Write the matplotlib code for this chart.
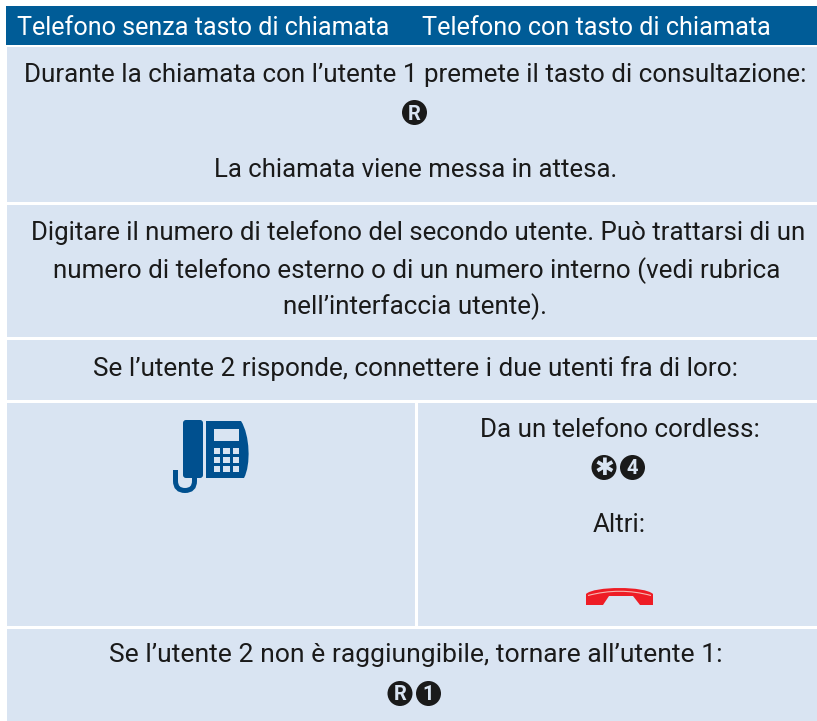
import matplotlib
matplotlib.use('Agg')
import matplotlib.pyplot as plt
from matplotlib.patches import Rectangle, Circle, FancyBboxPatch
from matplotlib.path import Path
from matplotlib.patches import PathPatch

HEADER = '#005c97'
CELL = '#d9e4f2'
TEXT = '#1a1a1a'
ICON = '#00508f'
RED = '#ee1c25'

header_labels = ['Telefono senza tasto di chiamata', 'Telefono con tasto di chiamata']
row_tops = [47, 205, 340, 403, 629]
row_bottoms = [202, 337, 400, 626, 721]
# baseline in pixels, text, font size, centre x
body_lines = [
    (82, 'Durante la chiamata con l\u2019utente 1 premete il tasto di consultazione:', 18.7, 415.5),
    (177, 'La chiamata viene messa in attesa.', 18.55, 415.5),
    (240, 'Digitare il numero di telefono del secondo utente. Può trattarsi di un', 18.65, 418),
    (278, 'numero di telefono esterno o di un numero interno (vedi rubrica', 18.7, 417),
    (314, 'nell\u2019interfaccia utente).', 18.7, 415.5),
    (376, 'Se l\u2019utente 2 risponde, connettere i due utenti fra di loro:', 18.8, 415.5),
    (662, 'Se l\u2019utente 2 non è raggiungibile, tornare all\u2019utente 1:', 19.05, 416),
]
right_lines = [(437, 'Da un telefono cordless:'), (532, 'Altri:')]
keys = [(414.5, 112.5, 'R'), (604, 467.5, '\u2731'), (632.5, 467.5, '4'), (400, 693.5, 'R'), (428.5, 693.5, '1')]

plt.rcParams['font.family'] = ['Roboto', 'DejaVu Sans']
fig = plt.figure(figsize=(8.17, 7.21), dpi=100)
ax = fig.add_axes([0, 0, 1, 1])
ax.set_xlim(0, 817)
ax.set_ylim(721, 0)
ax.axis('off')

LEFT, RIGHT = 7, 817
ax.add_patch(Rectangle((6, 6), RIGHT - 6, 39, fc=HEADER, ec='none'))
for top, bottom in zip(row_tops, row_bottoms):
    ax.add_patch(Rectangle((LEFT, top), RIGHT - LEFT, bottom - top, fc=CELL, ec='none'))
ax.plot([416, 416], [403, 626], color='white', lw=2.2)

ax.text(17, 35, header_labels[0], color='white', fontsize=18.1, ha='left', va='baseline')
ax.text(422, 35, header_labels[1], color='white', fontsize=18.2, ha='left', va='baseline')
for y, s, size, cx in body_lines:
    ax.text(cx, y, s, color=TEXT, fontsize=size, ha='center', va='baseline')
for y, s in right_lines:
    ax.text(619.5, y, s, color=TEXT, fontsize=18.7, ha='center', va='baseline')

# round key caps
for x, y, s in keys:
    ax.add_patch(Circle((x, y), 12.5, fc=TEXT, ec='none'))
    if s == '\u2731':
        ax.text(x, y + 0.5, s, color=CELL, fontsize=17, family='DejaVu Sans', ha='center', va='center')
    else:
        ax.text(x, y + 7, s, color=CELL, fontsize=14.5, fontweight='bold', ha='center', va='baseline')

# desk phone
ax.add_patch(FancyBboxPatch((183, 420), 20, 58, boxstyle='round,pad=0,rounding_size=3', fc=ICON, ec='none'))
body = Path([(206, 421), (241, 421), (250, 435), (251, 465), (244, 478), (206, 478), (206, 421)],
            [Path.MOVETO, Path.LINETO, Path.CURVE4, Path.CURVE4, Path.CURVE4, Path.LINETO, Path.CLOSEPOLY])
ax.add_patch(PathPatch(body, fc=ICON, ec='none'))
ax.add_patch(Rectangle((214, 429), 25, 12, fc=CELL, ec='none'))
for r in range(3):
    for c in range(3):
        ax.add_patch(Rectangle((214 + c * 9.4, 448 + r * 9), 6.5, 5.8, fc=CELL, ec='none'))
cord = Path([(175.5, 470), (175.5, 481), (175.5, 490.5), (185, 490.5), (194.5, 490.5), (194.5, 481), (194.5, 477)],
            [Path.MOVETO, Path.LINETO, Path.CURVE3, Path.CURVE3, Path.CURVE3, Path.CURVE3, Path.LINETO])
ax.add_patch(PathPatch(cord, fc='none', ec=ICON, lw=3.6))

# red receiver
recv = Path([(586, 594), (586, 605), (603, 605), (609, 596), (633, 596), (640, 605), (653, 605), (653, 594),
             (645, 586), (594, 586), (586, 594), (586, 594)],
            [Path.MOVETO, Path.LINETO, Path.LINETO, Path.LINETO, Path.LINETO, Path.LINETO, Path.LINETO, Path.LINETO,
             Path.CURVE4, Path.CURVE4, Path.CURVE4, Path.CLOSEPOLY])
ax.add_patch(PathPatch(recv, fc=RED, ec='none'))
shine = Path([(588, 595.5), (620, 587), (651, 595.5)], [Path.MOVETO, Path.CURVE3, Path.CURVE3])
ax.add_patch(PathPatch(shine, fc='none', ec='#f7b6b0', lw=0.8))

fig.savefig('out.png', dpi=100)
